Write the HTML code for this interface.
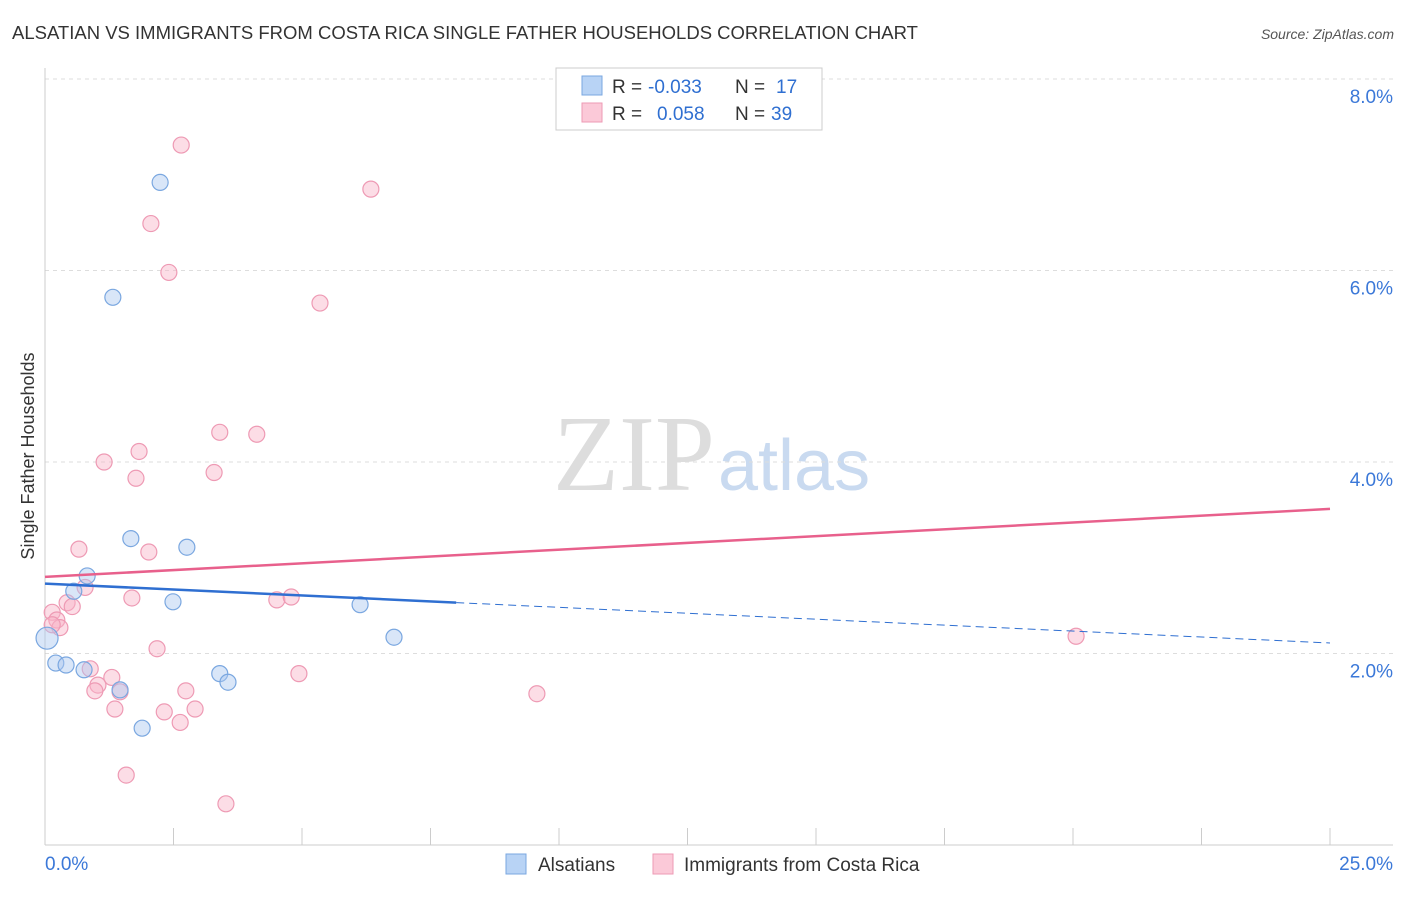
<!DOCTYPE html>
<html><head><meta charset="utf-8"><style>
body{margin:0;background:#fff;font-family:"Liberation Sans",sans-serif;}
svg text{font-family:"Liberation Sans",sans-serif;}
</style></head><body>
<svg id="c" width="1406" height="892">
<text x="12" y="39" font-size="18.5" fill="#333">ALSATIAN VS IMMIGRANTS FROM COSTA RICA SINGLE FATHER HOUSEHOLDS CORRELATION CHART</text>
<text x="1394" y="39" font-size="14" fill="#555" font-style="italic" text-anchor="end">Source: ZipAtlas.com</text>
<text x="715" y="490" font-size="108" fill="#ddd" text-anchor="end" style="font-family:'Liberation Serif',serif">ZIP</text>
<text x="718" y="490" font-size="72" fill="#c9daf0">atlas</text>
<text x="34" y="456" font-size="18" fill="#333" text-anchor="middle" transform="rotate(-90 34 456)">Single Father Households</text>
<g id="grid"></g><g id="pts"></g><g id="lines"></g>
<g>
<rect x="556" y="68" width="266" height="62" fill="#fff" stroke="#ccc"/>
<rect x="582" y="76" width="20" height="19" fill="#b8d3f5" stroke="#7aa7e0"/>
<rect x="582" y="103" width="20" height="19" fill="#fbc9d8" stroke="#ee9ab4"/>
<text x="612" y="93" font-size="19" fill="#333">R =</text>
<text x="648" y="93" font-size="19" fill="#2f6fd1">-0.033</text>
<text x="735" y="93" font-size="19" fill="#333">N =</text>
<text x="776" y="93" font-size="19" fill="#2f6fd1">17</text>
<text x="612" y="120" font-size="19" fill="#333">R =</text>
<text x="657" y="120" font-size="19" fill="#2f6fd1">0.058</text>
<text x="735" y="120" font-size="19" fill="#333">N =</text>
<text x="771" y="120" font-size="19" fill="#2f6fd1">39</text>
</g>
<g>
<rect x="506" y="854" width="20" height="20" fill="#b8d3f5" stroke="#7aa7e0"/>
<text x="538" y="871" font-size="19" fill="#333">Alsatians</text>
<rect x="653" y="854" width="20" height="20" fill="#fbc9d8" stroke="#ee9ab4"/>
<text x="684" y="871" font-size="19" fill="#333">Immigrants from Costa Rica</text>
</g>
</svg>
<script>
const xTicks=[0,2.5,5,7.5,10,12.5,15,17.5,20,22.5,25];
const yTicks=[2,4,6,8];
const yTickLabels=["2.0%","4.0%","6.0%","8.0%"];
const blueX=[0.04,0.21,0.41,0.76,0.56,0.82,1.32,2.24,1.67,2.76,2.49,1.46,1.89,3.40,3.56,6.13,6.79];
const blueY=[2.16,1.90,1.88,1.83,2.65,2.81,5.72,6.92,3.20,3.11,2.54,1.62,1.22,1.79,1.70,2.51,2.17];
const pinkX=[2.65,2.06,2.41,6.34,5.35,3.40,4.12,1.83,1.15,1.77,3.29,0.66,2.02,1.69,0.78,0.43,0.53,0.14,0.23,0.29,4.51,4.79,2.18,0.88,1.30,1.03,0.97,1.46,2.74,4.94,1.36,2.32,2.92,2.63,1.58,3.52,9.57,20.06,0.14];
const pinkY=[7.31,6.49,5.98,6.85,5.66,4.31,4.29,4.11,4.00,3.83,3.89,3.09,3.06,2.58,2.69,2.53,2.49,2.43,2.35,2.27,2.56,2.59,2.05,1.84,1.75,1.67,1.61,1.60,1.61,1.79,1.42,1.39,1.42,1.28,0.73,0.43,1.58,2.18,2.30];
const blueTrend=[2.73,2.11];
const pinkTrend=[2.80,3.51];
const blueSolidEnd=8.0;
const X=v=>45+v*51.4, Y=v=>845-v*95.75;
const NS="http://www.w3.org/2000/svg";
function mk(t,a,p){const e=document.createElementNS(NS,t);for(const k in a)e.setAttribute(k,a[k]);document.getElementById(p).appendChild(e);return e;}
let e;
yTicks.forEach((v,i)=>{
 e=mk('line',{x1:45,x2:1393,y1:Y(v),y2:Y(v),stroke:'#ddd','stroke-dasharray':'4 4'},'grid');
 
 
 e=mk('text',{x:1393,y:Y(v)+24,'font-size':19,fill:'#3b78d8','text-anchor':'end'},'grid');e.textContent=yTickLabels[i];
 
 
});
e=mk('line',{x1:45,x2:1393,y1:845,y2:845,stroke:'#ccc'},'grid');


e=mk('line',{x1:45,x2:45,y1:68,y2:845,stroke:'#ccc'},'grid');


xTicks.forEach(v=>{e=mk('line',{x1:X(v),x2:X(v),y1:828,y2:845,stroke:'#ccc'},'grid');
 
 });
e=mk('text',{x:45,y:870,'font-size':19,fill:'#3b78d8'},'grid');e.textContent='0.0%';


e=mk('text',{x:1393,y:870,'font-size':19,fill:'#3b78d8','text-anchor':'end'},'grid');e.textContent='25.0%';


pinkX.forEach((v,i)=>{e=mk('circle',{cx:X(v),cy:Y(pinkY[i]),r:8,fill:'rgba(248,180,200,0.45)',stroke:'#ee9ab4','stroke-width':1.2},'pts');
 
 });
blueX.forEach((v,i)=>{e=mk('circle',{cx:X(v),cy:Y(blueY[i]),r:i==0?11:8,fill:'rgba(170,200,240,0.45)',stroke:'#7aa7e0','stroke-width':1.2},'pts');
 
 });
const by=x=>blueTrend[0]+(blueTrend[1]-blueTrend[0])*x/25;
e=mk('line',{x1:X(0),y1:Y(by(0)),x2:X(blueSolidEnd),y2:Y(by(blueSolidEnd)),stroke:'#2f6fd1','stroke-width':2.5},'lines');


e=mk('line',{x1:X(blueSolidEnd),y1:Y(by(blueSolidEnd)),x2:X(25),y2:Y(by(25)),stroke:'#2f6fd1','stroke-width':1,'stroke-dasharray':'8 5'},'lines');


e=mk('line',{x1:X(0),y1:Y(pinkTrend[0]),x2:X(25),y2:Y(pinkTrend[1]),stroke:'#e8608c','stroke-width':2.5},'lines');


</script>
</body></html>
